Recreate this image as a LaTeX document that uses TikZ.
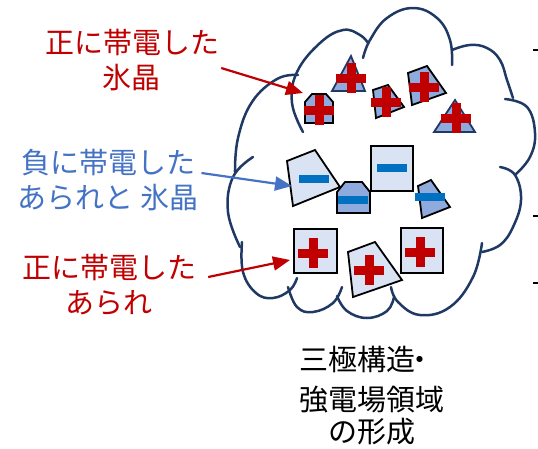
\documentclass[tikz,border=0pt]{standalone}
\usepackage{fontspec}
\newfontfamily\jpfont{Noto Sans CJK JP}
\usetikzlibrary{arrows.meta}

\definecolor{chgred}{HTML}{C00000}
\definecolor{chgblue}{HTML}{0070C0}
\definecolor{lblblue}{HTML}{4472C4}
\definecolor{cloudnavy}{HTML}{1F3864}
\definecolor{icefill}{HTML}{8FAADC}
\definecolor{hailfill}{HTML}{DAE3F3}

\tikzset{
  cloudline/.style={cloudnavy, line width=2.5pt, line cap=round},
  ice/.style={draw=black, fill=icefill, line width=1.8pt},
  icetri/.style={draw=cloudnavy, fill=icefill, line width=1.8pt},
  hail/.style={draw=black, fill=hailfill, line width=1.8pt},
  lbl/.style={font=\jpfont\fontsize{29}{35}\selectfont, align=center, inner sep=0pt},
  redarrow/.style={chgred, line width=2.2pt, -{Triangle[length=17pt,width=14pt]}},
  bluearrow/.style={lblblue, line width=2.2pt, -{Triangle[length=17pt,width=14pt]}},
  chgplus/.pic={
    \fill[chgred] (-15,-4.5) rectangle (15,4.5);
    \fill[chgred] (-4.5,-15) rectangle (4.5,15);
  },
  chgminus/.pic={\fill[chgblue] (-15,-4) rectangle (15,4);},
}

\begin{document}
\begin{tikzpicture}[x=1pt, y=-1pt]
  \useasboundingbox (0,0) rectangle (538,448);

  % cloud outline, one arc per bump
  \draw[cloudline] plot[smooth, tension=0.7] coordinates {(303,132) (292,103) (297,72) (320,43) (343,30) (360,35) (368,43)};
  \draw[cloudline] plot[smooth, tension=0.7] coordinates {(363,58) (370,40) (387,18) (413,8) (437,18) (450,40) (452,65)};
  \draw[cloudline] plot[smooth, tension=0.7] coordinates {(452,50) (470,45) (487,48) (500,60) (507,80) (513,98)};
  \draw[cloudline] plot[smooth, tension=0.7] coordinates {(505,99) (527,107) (535,133) (530,157) (515,175)};
  \draw[cloudline] plot[smooth, tension=0.7] coordinates {(500,167) (515,175) (521,200) (513,227) (500,245) (482,252)};
  \draw[cloudline] plot[smooth, tension=0.7] coordinates {(482,243) (473,277) (450,307) (420,315) (398,302) (391,287)};
  \draw[cloudline] plot[smooth, tension=0.7] coordinates {(394,297) (387,311) (367,318) (347,311) (337,296)};
  \draw[cloudline] plot[smooth, tension=0.7] coordinates {(342,287) (333,303) (313,312) (297,307) (288,287)};
  \draw[cloudline] plot[smooth, tension=0.7] coordinates {(297,278) (290,290) (273,298) (256,293) (243,272) (242,242)};
  \draw[cloudline] plot[smooth, tension=0.7] coordinates {(240,247) (228,212) (233,177) (253,157)};
  \draw[cloudline] plot[smooth, tension=0.7] coordinates {(235,172) (238,138) (252,102) (277,79) (298,75)};

  % ice crystals (positive)
  \draw[ice] (305,102) -- (312,94) -- (326,94) -- (333,102) -- (333,123) -- (305,123) -- cycle;
  \pic at (319,110) {chgplus};
  \draw[icetri] (351,56) -- (365,91) -- (332,91) -- cycle;
  \pic at (351,78) {chgplus};
  \draw[ice] (373,90) -- (388,85) -- (404,107) -- (376,118) -- cycle;
  \pic at (386,102) {chgplus};
  \draw[ice] (408,73) -- (427,66) -- (446,93) -- (412,105) -- cycle;
  \pic at (424,87) {chgplus};
  \draw[icetri] (455,100) -- (475,132) -- (434,132) -- cycle;
  \pic at (456,118) {chgplus};

  % graupel and ice crystals (negative)
  \draw[hail] (287,161) -- (315,150) -- (340,187) -- (293,206) -- cycle;
  \pic at (314,179) {chgminus};
  \draw[ice] (337,192) -- (345,182) -- (362,182) -- (370,192) -- (370,213) -- (337,213) -- cycle;
  \pic at (353,200) {chgminus};
  \draw[hail] (371,146) rectangle (413,191);
  \pic at (392,168) {chgminus};
  \draw[ice] (418,186) -- (431,180) -- (450,207) -- (422,218) -- cycle;
  \pic at (430,197) {chgminus};

  % graupel (positive)
  \draw[hail] (294,229) rectangle (337,273);
  \pic at (313,253) {chgplus};
  \draw[hail] (348,252) -- (375,242) -- (402,280) -- (353,297) -- cycle;
  \pic at (369,270) {chgplus};
  \draw[hail] (401,228) rectangle (443,273);
  \pic at (420,252) {chgplus};

  % labels
  \node[lbl, text=chgred] (lblIce) at (132,60) {正に帯電した\\氷晶};
  \node[lbl, text=lblblue] (lblMix) at (108,180) {負に帯電した\\あられと 氷晶};
  \node[lbl, text=chgred] (lblGrp) at (109,285) {正に帯電した\\あられ};
  \node[lbl, font=\jpfont\fontsize{29}{32}\selectfont] (lblOut) at (372,396)
    {三極構造\kern-10pt・\kern10pt\\[8pt]強電場領域\\の形成};

  \coordinate (tipIce) at (303,93);
  \coordinate (tipMix) at (292,186);
  \coordinate (tipGrp) at (290,260);
  \draw[redarrow] ([xshift=2pt,yshift=-8pt]lblIce.east) -- (tipIce);
  \draw[bluearrow] ([xshift=3pt,yshift=7pt]lblMix.east) -- (tipMix);
  \draw[redarrow] ([xshift=12pt,yshift=8pt]lblGrp.east) -- (tipGrp);

  % edge ticks
  \draw[line width=1.5pt] (533,50) -- (538,50);
  \draw[line width=1.5pt] (533,216) -- (538,216);
  \draw[line width=1.5pt] (533,283) -- (538,283);
\end{tikzpicture}
\end{document}
